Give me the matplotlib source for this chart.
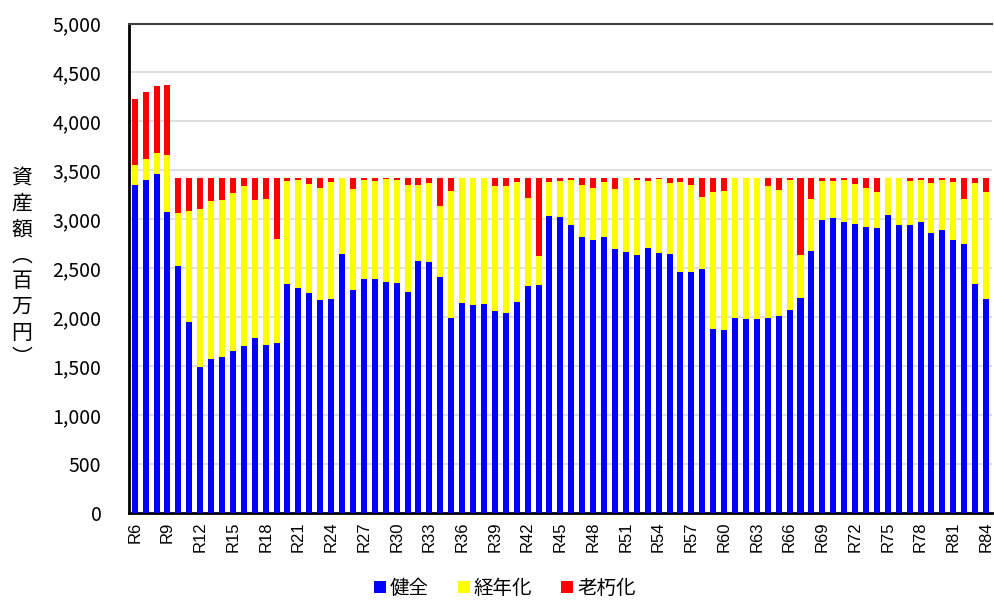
import matplotlib.pyplot as plt
import numpy as np
from matplotlib.ticker import FuncFormatter, MultipleLocator

plt.rcParams["font.family"] = ["Noto Sans CJK JP", "DejaVu Sans"]

years = [f"R{i}" for i in range(6, 85)]

# 百万円
sound = [
    3347, 3404, 3462, 3078, 2524, 1952, 1496, 1578, 1598, 1653,
    1707, 1789, 1714, 1738, 2340, 2298, 2248, 2180, 2190, 2646,
    2276, 2394, 2394, 2360, 2353, 2255, 2571, 2564, 2411, 1993,
    2146, 2129, 2133, 2064, 2041, 2156, 2319, 2326, 3031, 3024,
    2945, 2816, 2786, 2816, 2697, 2666, 2633, 2707, 2656, 2646,
    2462, 2462, 2490, 1884, 1874, 1990, 1986, 1986, 1996, 2016,
    2078, 2194, 2677, 2989, 3010, 2976, 2955, 2925, 2908, 3047,
    2942, 2939, 2976, 2860, 2891, 2792, 2748, 2340, 2187,
]
aged = [
    207, 215, 215, 575, 537, 1136, 1612, 1609, 1602, 1619,
    1630, 1408, 1496, 1064, 1051, 1104, 1109, 1143, 1194, 772,
    1033, 1007, 1000, 1048, 1051, 1092, 779, 810, 728, 1299,
    1272, 1289, 1285, 1279, 1299, 1222, 901, 296, 353, 370,
    459, 537, 537, 568, 609, 752, 768, 687, 755, 721,
    922, 891, 737, 1398, 1418, 1428, 1432, 1432, 1347, 1286,
    1326, 445, 533, 405, 384, 425, 402, 398, 368, 371,
    476, 455, 422, 514, 513, 592, 462, 1034, 1095,
]
decrepit = [
    680, 683, 683, 717, 357, 330, 310, 231, 218, 146,
    81, 221, 208, 616, 27, 16, 61, 95, 34, 0,
    109, 17, 24, 10, 14, 71, 68, 44, 279, 126,
    0, 0, 0, 75, 78, 40, 198, 796, 34, 24,
    14, 65, 95, 34, 112, 0, 17, 24, 7, 51,
    34, 65, 191, 136, 126, 0, 0, 0, 75, 116,
    14, 779, 208, 24, 24, 17, 61, 95, 142, 0,
    0, 24, 20, 44, 14, 34, 208, 44, 136,
]

x = np.arange(len(years))
sound = np.array(sound)
aged = np.array(aged)
decrepit = np.array(decrepit)

fig = plt.figure(figsize=(9.94, 6.03), dpi=100)
ax = fig.add_axes([0.130, 0.149, 0.8675, 0.812])

w = 0.55
ax.bar(x, sound, w, color="#0000ff", label="健全", zorder=3)
ax.bar(x, aged, w, bottom=sound, color="#ffff00", label="経年化", zorder=3)
ax.bar(x, decrepit, w, bottom=sound + aged, color="#ff0000", label="老朽化", zorder=3)

ax.set_xlim(-0.5, len(years) - 0.5)
ax.set_ylim(0, 5000)
ax.yaxis.set_major_locator(MultipleLocator(500))
ax.yaxis.set_major_formatter(FuncFormatter(lambda v, p: f"{int(v):,}"))
ax.grid(axis="y", color="#d9d9d9", linewidth=1.2, zorder=0)

ax.set_xticks(x[::3])
ax.set_xticklabels(years[::3], rotation=90, family="Liberation Sans", fontsize=12)
ax.tick_params(axis="x", length=0, pad=6)
ax.tick_params(axis="y", length=0, pad=20, labelsize=14)

for s in ("left", "bottom"):
    ax.spines[s].set_linewidth(2)
    ax.spines[s].set_color("black")
ax.spines["top"].set_color("#404040")
ax.spines["top"].set_linewidth(1.5)
ax.spines["right"].set_visible(False)

# 縦書きの軸ラベル
fig.text(0.022, 0.555, "資\n産\n額\n︵\n百\n万\n円\n︶", ha="center", va="center",
         fontsize=15, linespacing=1.22)

fig.legend(loc="lower center", bbox_to_anchor=(0.508, -0.022), ncol=3, frameon=False,
           fontsize=14, handlelength=0.6, handleheight=0.6, handletextpad=0.2,
           columnspacing=1.5)

fig.savefig("out.png", dpi=100)
